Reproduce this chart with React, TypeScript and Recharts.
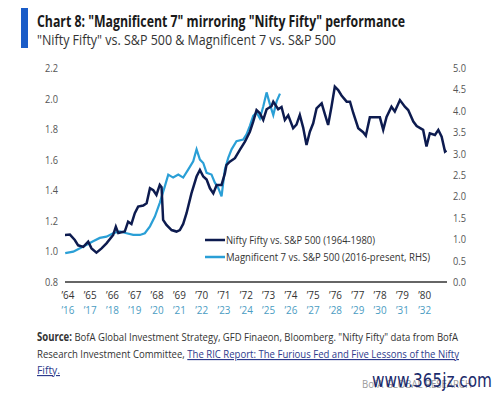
import React from "react";
import { ComposedChart, Line, XAxis, YAxis } from "recharts";

// Nifty Fifty vs. S&P 500 (LHS), 1964-1980
const niftyYears = [
  1963.87, 1964.09, 1964.31, 1964.46, 1964.69, 1964.91, 1965.06, 1965.28, 1965.51, 1965.73,
  1966.03, 1966.15, 1966.26, 1966.55, 1966.7, 1966.85, 1967.0, 1967.15, 1967.38, 1967.53,
  1967.68, 1967.83, 1967.97, 1968.12, 1968.2, 1968.27, 1968.42, 1968.65, 1968.87, 1969.02,
  1969.17, 1969.32, 1969.54, 1969.77, 1969.92, 1970.07, 1970.22, 1970.37, 1970.52, 1970.67,
  1970.89, 1971.04, 1971.11, 1971.26, 1971.49, 1971.71, 1971.94, 1972.16, 1972.31, 1972.46,
  1972.61, 1972.76, 1972.91, 1973.13, 1973.21, 1973.43, 1973.58, 1973.73, 1973.88, 1974.1,
  1974.25, 1974.4, 1974.55, 1974.7, 1974.85, 1975.0, 1975.15, 1975.38, 1975.52, 1975.67,
  1975.82, 1975.97, 1976.12, 1976.27, 1976.5, 1976.65, 1976.8, 1977.02, 1977.24, 1977.36,
  1977.54, 1977.77, 1977.99, 1978.14, 1978.29, 1978.51, 1978.66, 1978.89, 1979.11, 1979.26,
  1979.49, 1979.64, 1979.93, 1980.08, 1980.23, 1980.46, 1980.61, 1980.76, 1980.91, 1980.98,
];
const niftyValues = [
  1.108, 1.11, 1.075, 1.04, 1.03, 1.064, 1.02, 0.992, 1.02, 1.053,
  1.108, 1.162, 1.12, 1.13, 1.195, 1.18, 1.25, 1.293, 1.3, 1.315,
  1.413, 1.4, 1.37, 1.435, 1.42, 1.206, 1.173, 1.14, 1.13, 1.14,
  1.18, 1.25, 1.38, 1.49, 1.533, 1.49, 1.47, 1.413, 1.38, 1.435,
  1.435, 1.51, 1.565, 1.587, 1.61, 1.664, 1.718, 1.783, 1.849, 1.925,
  1.904, 1.86, 1.93, 1.95, 1.98, 1.93, 1.945, 1.86, 1.89, 1.806,
  1.83, 1.893, 1.81, 1.696, 1.783, 1.838, 1.936, 1.969, 1.9, 1.827,
  1.947, 2.078, 2.056, 2.02, 1.98, 1.98, 1.904, 1.806, 1.78, 1.757,
  1.877, 1.877, 1.877, 1.795, 1.88, 1.947, 1.915, 1.99, 1.947, 1.925,
  1.85, 1.82, 1.795, 1.686, 1.773, 1.762, 1.795, 1.75, 1.653, 1.66,
];

// Magnificent 7 vs. S&P 500 (RHS), 2016-present
const mag7Years = [
  2015.88, 2016.24, 2016.54, 2016.84, 2017.13, 2017.43, 2017.73, 2018.03, 2018.33, 2018.63,
  2018.93, 2019.23, 2019.45, 2019.68, 2019.9, 2020.12, 2020.35, 2020.5, 2020.72, 2020.95,
  2021.17, 2021.4, 2021.62, 2021.77, 2021.92, 2022.07, 2022.22, 2022.44, 2022.59, 2022.74,
  2022.89, 2023.04, 2023.19, 2023.34, 2023.56, 2023.86, 2024.01, 2024.16, 2024.31, 2024.46,
  2024.61, 2024.76, 2024.91, 2025.06, 2025.21, 2025.36, 2025.51,
];
const mag7Values = [
  0.673, 0.71, 0.79, 0.87, 0.95, 1.03, 1.06, 1.14, 1.18, 1.14,
  1.1, 1.1, 1.14, 1.3, 1.53, 1.85, 2.24, 2.51, 2.44, 2.51,
  2.44, 2.63, 2.82, 3.1, 2.86, 2.78, 2.55, 2.51, 2.32, 2.2,
  2.0, 2.63, 2.9, 3.1, 3.29, 3.33, 3.45, 3.65, 3.88, 3.96,
  3.82, 4.1, 4.43, 4.15, 3.9, 4.22, 4.4,
];

const yearTicks = [1964, 1965, 1966, 1967, 1968, 1969, 1970, 1971, 1972, 1973, 1974, 1975, 1976, 1977, 1978, 1979, 1980];
const leftTicks = [0.8, 1.0, 1.2, 1.4, 1.6, 1.8, 2.0, 2.2];
const rightTicks = [0, 0.5, 1, 1.5, 2, 2.5, 3, 3.5, 4, 4.5, 5];
const MAG7_OFFSET = 52; // 2016 plotted over 1964

const FONT = "'Open Sans', Roboto, sans-serif";
const NAVY = "#0d1b4f";
const LIGHT = "#2a9fd6";

const rows = [
  ...niftyYears.map((x, i) => ({ x, nifty: niftyValues[i] })),
  ...mag7Years.map((y, i) => ({ x: y - MAG7_OFFSET, mag7: mag7Values[i] })),
].sort((a, b) => a.x - b.x);

const YearTick = (props: any) => {
  const { x, payload } = props;
  const v = payload.value as number;
  const a = "\u2019" + String(v).slice(2);
  const b = "\u2019" + String(v + MAG7_OFFSET).slice(2);
  return (
    <g fontFamily={FONT} fontSize={11.5}>
      <text x={x} y={299} textAnchor="middle" fill="#333" textLength={13} lengthAdjust="spacingAndGlyphs">
        {a}
      </text>
      <text x={x} y={314} textAnchor="middle" fill="#4a9cc2" textLength={13} lengthAdjust="spacingAndGlyphs">
        {b}
      </text>
    </g>
  );
};

const ValueTick = (props: any) => {
  const { x, y, payload, side } = props;
  return (
    <text
      x={side === "left" ? x - 14 : x}
      y={y + 4}
      fontFamily={FONT}
      fontSize={11.5}
      fill="#555"
      textLength={13}
      lengthAdjust="spacingAndGlyphs"
    >
      {(payload.value as number).toFixed(1)}
    </text>
  );
};

export default function App() {
  return (
    <div style={{ position: "absolute", left: 0, top: 0, width: 500, height: 394, background: "#fff", overflow: "hidden" }}>
      <ComposedChart
        width={500}
        height={394}
        data={rows}
        margin={{ top: 68, right: 8, bottom: 82, left: 10 }}
        style={{ position: "absolute", left: 0, top: 0 }}
      >
        <XAxis
          dataKey="x"
          type="number"
          domain={[1963.87, 1981]}
          ticks={yearTicks}
          interval={0}
          tick={<YearTick />}
          tickLine={false}
          height={30}
          axisLine={{ stroke: "#666", strokeWidth: 2 }}
          allowDataOverflow
        />
        <YAxis
          yAxisId="left"
          domain={[0.8, 2.2]}
          ticks={leftTicks}
          interval={0}
          axisLine={false}
          tickLine={false}
          width={55}
          tickMargin={0}
          tick={<ValueTick side="left" />}
        />
        <YAxis
          yAxisId="right"
          orientation="right"
          domain={[0, 5]}
          ticks={rightTicks}
          interval={0}
          axisLine={false}
          tickLine={false}
          width={45}
          tickMargin={0}
          tick={<ValueTick side="right" />}
        />
        <Line
          yAxisId="right"
          dataKey="mag7"
          stroke={LIGHT}
          strokeWidth={2.2}
          dot={false}
          connectNulls
          isAnimationActive={false}
        />
        <Line
          yAxisId="left"
          dataKey="nifty"
          stroke={NAVY}
          strokeWidth={2.5}
          dot={false}
          connectNulls
          isAnimationActive={false}
        />
      </ComposedChart>

      <svg width={500} height={394} style={{ position: "absolute", left: 0, top: 0, pointerEvents: "none" }} fontFamily={FONT}>
        <rect x={21} y={8} width={7} height={40} fill="#1a5cc8" />
        <text x={37} y={27} fontSize={15.5} fontWeight={700} fill="#1a1a1a" textLength={368} lengthAdjust="spacingAndGlyphs">
          Chart 8: "Magnificent 7" mirroring "Nifty Fifty" performance
        </text>
        <text x={37} y={45} fontSize={14} fill="#333" textLength={299} lengthAdjust="spacingAndGlyphs">
          "Nifty Fifty" vs. S&amp;P 500 &amp; Magnificent 7 vs. S&amp;P 500
        </text>

        {/* legend */}
        <line x1={205} x2={225} y1={240} y2={240} stroke={NAVY} strokeWidth={2.5} />
        <text x={226} y={244} fontSize={11.5} fill="#333" textLength={149} lengthAdjust="spacingAndGlyphs">
          Nifty Fifty vs. S&amp;P 500 (1964-1980)
        </text>
        <line x1={205} x2={225} y1={257} y2={257} stroke={LIGHT} strokeWidth={2.5} />
        <text x={226} y={261} fontSize={11.5} fill="#333" textLength={204} lengthAdjust="spacingAndGlyphs">
          Magnificent 7 vs. S&amp;P 500 (2016-present, RHS)
        </text>

        {/* source */}
        <text x={37} y={341} fontSize={11.5} fill="#333" textLength={421} lengthAdjust="spacingAndGlyphs">
          <tspan fontWeight={700}>Source:</tspan> BofA Global Investment Strategy, GFD Finaeon, Bloomberg. "Nifty Fifty" data from BofA
        </text>
        <text x={37} y={358} fontSize={11.5} fill="#333" textLength={422} lengthAdjust="spacingAndGlyphs">
          Research Investment Committee,{" "}
          <tspan fill="#2d3a8c" textDecoration="underline">The RIC Report: The Furious Fed and Five Lessons of the Nifty</tspan>
        </text>
        <text x={37} y={374} fontSize={11.5} fill="#2d3a8c" textDecoration="underline" textLength={23} lengthAdjust="spacingAndGlyphs">
          Fifty.
        </text>
        <text x={362} y={388} fontSize={10} fill="#9a9a9a" textLength={110} lengthAdjust="spacingAndGlyphs">
          BofA GLOBAL RESEARCH
        </text>
        <text x={372} y={387} fontSize={19} fill="#1b2a6b" fontFamily="'DejaVu Sans', sans-serif" textLength={120} lengthAdjust="spacingAndGlyphs">
          www.365jz.com
        </text>
      </svg>
    </div>
  );
}
